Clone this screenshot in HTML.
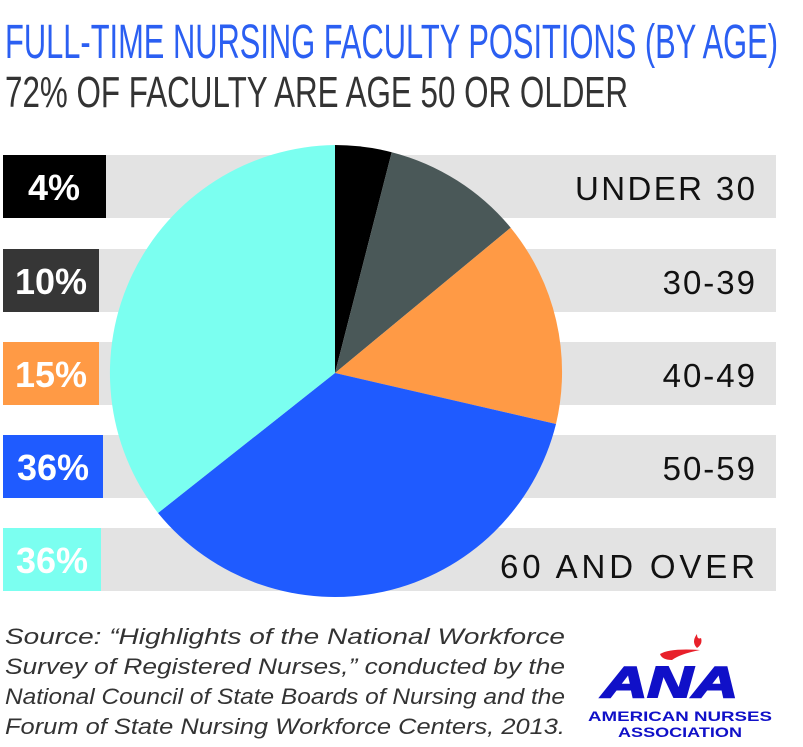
<!DOCTYPE html>
<html><head><style>body{margin:0;background:#fff}svg{display:block}</style></head>
<body>
<svg width="803" height="747" xmlns="http://www.w3.org/2000/svg" font-family="'Liberation Sans Narrow','Liberation Sans',sans-serif">
<text x="5" y="58" font-size="48" fill="#2b5ff2" textLength="773" lengthAdjust="spacingAndGlyphs">FULL-TIME NURSING FACULTY POSITIONS (BY AGE)</text>
<text x="5" y="107" font-size="44" fill="#333" textLength="623" lengthAdjust="spacingAndGlyphs">72% OF FACULTY ARE AGE 50 OR OLDER</text>
<g fill="#e3e3e3">
<rect x="3" y="155" width="773" height="63"/>
<rect x="3" y="249" width="773" height="63"/>
<rect x="3" y="342" width="773" height="63"/>
<rect x="3" y="435" width="773" height="63"/>
<rect x="3" y="528" width="773" height="63"/>
</g>
<rect x="3" y="155" width="103" height="63" fill="#000"/>
<rect x="3" y="249" width="96" height="63" fill="#363636"/>
<rect x="3" y="342" width="96" height="63" fill="#ff9a45"/>
<rect x="3" y="435" width="100" height="63" fill="#1f5bff"/>
<rect x="3" y="528" width="98" height="63" fill="#7bfff0"/>
<g font-family="'Liberation Sans',sans-serif" font-weight="bold" font-size="36" fill="#fff" text-anchor="middle">
<text x="54" y="200">4%</text>
<text x="51" y="294">10%</text>
<text x="51" y="387">15%</text>
<text x="53" y="480">36%</text>
<text x="52" y="573">36%</text>
</g>
<g font-family="'Liberation Sans',sans-serif" font-size="33" fill="#111" text-anchor="end" letter-spacing="2">
<text x="757" y="200" textLength="182" lengthAdjust="spacing">UNDER 30</text>
<text x="757" y="294">30-39</text>
<text x="757" y="387">40-49</text>
<text x="757" y="480">50-59</text>
<text x="757" y="578" textLength="257" lengthAdjust="spacing">60 AND OVER</text>
</g>
<g transform="translate(335,373)">
<path d="M0,0 L0,-228 A228,228 0 0 1 56.7,-220.8 Z" fill="#000"/>
<path d="M0,0 L56.7,-220.8 A228,228 0 0 1 175.7,-145.3 Z" fill="#4a5858"/>
<path d="M0,0 L175.7,-145.3 A228,228 0 0 1 221,51 Z" fill="#ff9a45"/>
<path d="M0,0 L221,51 A228,228 0 0 1 -177,140 Z" fill="#1f5bff"/>
<path d="M0,0 L-177,140 A228,228 0 0 1 0,-228 Z" fill="#7bfff0"/>
</g>
<g font-family="'Liberation Sans',sans-serif" font-style="italic" font-size="22" fill="#333">
<text x="5" y="644" textLength="560" lengthAdjust="spacingAndGlyphs">Source: “Highlights of the National Workforce</text>
<text x="5" y="674" textLength="560" lengthAdjust="spacingAndGlyphs">Survey of Registered Nurses,” conducted by the</text>
<text x="5" y="704" textLength="560" lengthAdjust="spacingAndGlyphs">National Council of State Boards of Nursing and the</text>
<text x="5" y="734" textLength="560" lengthAdjust="spacingAndGlyphs">Forum of State Nursing Workforce Centers, 2013.</text>
</g>
<path d="M697,648 q-6,-6 0,-14 q0,6 4,4 q2,6 -4,10z" fill="#e8202a"/>
<path d="M660,654 q10,-6 40,-4 q-20,4 -28,10 q-10,0 -12,-6z" fill="#e8202a"/>
<text x="670" y="697" font-family="'Liberation Sans',sans-serif" font-weight="bold" font-style="italic" font-size="44" fill="#1010c8" text-anchor="middle" textLength="136" lengthAdjust="spacingAndGlyphs" stroke="#1010c8" stroke-width="2">ANA</text>
<text x="680" y="721" font-family="'Liberation Sans',sans-serif" font-weight="bold" font-size="14" fill="#1010c8" text-anchor="middle" textLength="184" lengthAdjust="spacingAndGlyphs">AMERICAN NURSES</text>
<text x="680" y="737" font-family="'Liberation Sans',sans-serif" font-weight="bold" font-size="14" fill="#1010c8" text-anchor="middle" textLength="124" lengthAdjust="spacingAndGlyphs">ASSOCIATION</text>
</svg>
</body></html>
